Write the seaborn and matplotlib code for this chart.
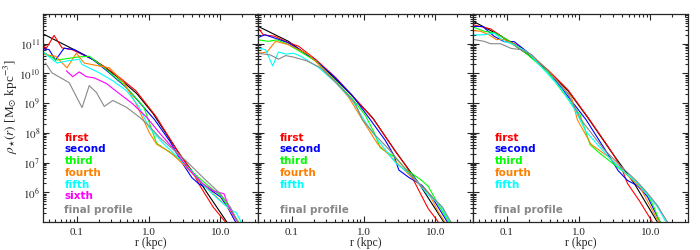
import numpy as np
import pandas as pd
import seaborn as sns
import matplotlib.pyplot as plt
import matplotlib.ticker as mticker

# -------------------------------------------------
# Data: log10(r / kpc) and log10(rho)
# -------------------------------------------------
runs = ["fit", "first", "second", "third", "fourth", "fifth", "sixth", "final profile"]
run_colors = {
    "fit": "black", "first": "#ff0000", "second": "#0000ff", "third": "#00ff00",
    "fourth": "#ff8000", "fifth": "#00ffff", "sixth": "#ff00ff", "final profile": "#888888",
}

# panel 1
p1_logr = {
    "fit": [-1.49, -1.0, -0.74, -0.455, -0.17, 0.06, 0.44, 0.72, 0.81, 1.09, 1.25],
    "first": [-1.49, -1.44, -1.32, -1.21, -1.07, -0.78, -0.6, -0.41, -0.18, 0.10, 0.40, 0.62, 0.72, 0.9, 1.07, 1.2],
    "second": [-1.49, -1.39, -1.3, -1.18, -1.04, -0.78, -0.55, -0.31, 0.08, 0.3, 0.48, 0.6, 0.7, 0.85, 1.0, 1.1, 1.2, 1.3],
    "third": [-1.49, -1.28, -1.0, -0.83, -0.6, -0.36, -0.07, 0.11, 0.44, 0.67, 0.84, 1.0, 1.15, 1.28],
    "fourth": [-1.49, -1.3, -1.14, -1.01, -0.9, -0.69, -0.55, -0.35, -0.18, 0.01, 0.11, 0.3, 0.5, 0.7, 0.9, 1.1, 1.25],
    "fifth": [-1.49, -1.28, -1.14, -0.97, -0.93, -0.69, -0.5, -0.31, -0.13, 0.0, 0.2, 0.4, 0.6, 0.8, 1.0, 1.15, 1.22, 1.3],
    "sixth": [-1.15, -1.06, -0.97, -0.87, -0.76, -0.59, -0.41, -0.23, -0.03, 0.15, 0.35, 0.55, 0.75, 0.9, 1.05, 1.12, 1.25],
    "final profile": [-1.44, -1.35, -1.11, -0.93, -0.83, -0.73, -0.62, -0.5, -0.31, -0.13, 0.0, 0.15, 0.52, 0.8, 1.0, 1.14, 1.23, 1.3],
}
p1_logrho = {
    "fit": [11.35, 10.75, 10.42, 9.92, 9.33, 8.65, 7.25, 6.33, 6.0, 5.0, 4.4],
    "first": [11.08, 10.8, 11.28, 10.86, 10.8, 10.47, 10.2, 9.87, 9.42, 8.56, 7.4, 6.65, 6.2, 5.5, 5.0, 4.6],
    "second": [10.84, 10.8, 10.45, 10.85, 10.8, 10.47, 10.02, 9.52, 8.45, 7.7, 6.94, 6.5, 6.28, 6.1, 5.85, 5.5, 5.05, 4.7],
    "third": [10.72, 10.45, 10.55, 10.58, 10.15, 9.65, 8.88, 7.65, 7.1, 6.55, 6.2, 5.9, 5.4, 4.9],
    "fourth": [10.65, 10.58, 10.19, 10.68, 10.35, 10.25, 10.19, 9.7, 9.0, 8.0, 7.62, 7.35, 6.9, 6.4, 5.95, 5.5, 5.0],
    "fifth": [10.75, 10.35, 10.42, 10.48, 10.3, 10.02, 9.75, 9.42, 8.86, 8.2, 7.65, 7.2, 6.7, 6.15, 5.7, 5.4, 5.32, 4.95],
    "sixth": [10.09, 9.89, 10.05, 9.89, 9.85, 9.66, 9.32, 8.99, 8.53, 8.0, 7.45, 6.8, 6.3, 6.05, 5.95, 5.5, 4.95],
    "final profile": [10.35, 10.02, 9.69, 8.85, 9.59, 9.36, 8.89, 9.09, 8.86, 8.53, 8.25, 7.85, 7.06, 6.4, 5.95, 5.5, 5.05, 4.8],
}

# panel 2
p2_logr = {
    "fit": [-1.47, -1.05, -0.67, -0.44, -0.21, 0.12, 0.44, 0.77, 1.09, 1.25],
    "first": [-1.47, -1.4, -1.24, -1.05, -0.91, -0.67, -0.39, -0.12, 0.14, 0.45, 0.6, 0.70, 0.77, 0.9, 1.02, 1.15],
    "second": [-1.47, -1.38, -1.24, -1.05, -0.72, -0.44, -0.16, 0.09, 0.3, 0.42, 0.49, 0.63, 0.81, 0.95, 1.09, 1.18],
    "third": [-1.47, -1.33, -1.21, -1.05, -0.67, -0.44, -0.16, 0.02, 0.14, 0.23, 0.44, 0.6, 0.81, 0.9, 1.05, 1.17, 1.25],
    "fourth": [-1.47, -1.35, -1.23, -1.05, -0.77, -0.49, -0.21, -0.02, 0.19, 0.42, 0.65, 0.9, 1.05, 1.12, 1.22],
    "fifth": [-1.47, -1.37, -1.27, -1.19, -1.09, -0.98, -0.88, -0.63, -0.39, -0.16, 0.0, 0.2, 0.44, 0.7, 0.9, 1.06, 1.18, 1.28],
    "final profile": [-1.47, -1.3, -1.19, -1.09, -0.98, -0.79, -0.6, -0.3, -0.12, -0.02, 0.15, 0.35, 0.63, 0.95, 1.1, 1.2, 1.3],
}
p2_logrho = {
    "fit": [11.58, 11.08, 10.42, 9.92, 9.37, 8.52, 7.39, 6.3, 5.1, 4.5],
    "first": [11.52, 11.3, 11.25, 11.03, 10.92, 10.47, 9.86, 9.15, 8.45, 7.35, 6.85, 6.39, 6.06, 5.45, 5.07, 4.6],
    "second": [11.21, 11.3, 11.19, 11.03, 10.53, 9.95, 9.26, 8.45, 7.75, 7.25, 6.75, 6.5, 6.24, 5.85, 5.3, 4.95],
    "third": [11.13, 11.08, 11.13, 10.97, 10.42, 9.86, 9.15, 8.6, 8.04, 7.5, 7.17, 6.75, 6.4, 6.2, 5.55, 5.08, 4.8],
    "fourth": [10.68, 10.72, 11.08, 10.97, 10.64, 9.97, 9.2, 8.45, 7.64, 7.1, 6.55, 6.0, 5.3, 5.05, 4.7],
    "fifth": [10.85, 10.8, 10.25, 10.72, 10.65, 10.68, 10.58, 10.2, 9.69, 9.1, 8.45, 7.75, 7.0, 6.5, 5.9, 5.6, 5.1, 4.7],
    "final profile": [10.68, 10.62, 10.48, 10.6, 10.55, 10.42, 10.19, 9.49, 8.99, 8.45, 7.95, 7.45, 6.65, 5.85, 5.5, 5.07, 4.7],
}

# panel 3
p3_logr = {
    "fit": [-1.46, -1.08, -0.71, -0.43, -0.15, 0.13, 0.45, 0.78, 1.08, 1.25],
    "first": [-1.46, -1.23, -1.04, -0.8, -0.43, -0.15, 0.15, 0.45, 0.6, 0.68, 0.85, 1.01, 1.12],
    "second": [-1.46, -1.34, -1.18, -1.04, -0.9, -0.71, -0.43, 0.1, 0.43, 0.55, 0.68, 0.82, 0.96, 1.12, 1.2],
    "third": [-1.46, -1.32, -1.17, -1.0, -0.77, -0.43, 0.02, 0.16, 0.3, 0.45, 0.62, 0.75, 0.88, 0.98, 1.05, 1.12, 1.2],
    "fourth": [-1.46, -1.37, -1.25, -1.15, -1.04, -0.71, -0.43, -0.1, -0.02, 0.17, 0.44, 0.67, 0.86, 1.1, 1.2],
    "fifth": [-1.46, -1.32, -1.18, -1.04, -0.9, -0.71, -0.43, -0.24, -0.05, 0.1, 0.3, 0.45, 0.62, 0.8, 0.95, 1.1, 1.2, 1.28],
    "final profile": [-1.46, -1.32, -1.23, -1.09, -0.94, -0.8, -0.66, -0.43, -0.15, 0.03, 0.35, 0.6, 0.8, 0.95, 1.1, 1.22, 1.3],
}
p3_logrho = {
    "fit": [11.74, 11.25, 10.64, 10.09, 9.42, 8.5, 7.38, 6.28, 5.07, 4.4],
    "first": [11.63, 11.5, 11.19, 10.86, 10.12, 9.45, 8.45, 7.4, 6.8, 6.3, 5.7, 5.07, 4.6],
    "second": [11.58, 11.58, 11.25, 11.07, 11.07, 10.71, 10.1, 8.45, 7.2, 6.73, 6.4, 6.22, 5.85, 5.07, 4.8],
    "third": [11.55, 11.42, 11.36, 11.14, 10.75, 10.04, 8.6, 7.6, 7.3, 7.02, 6.7, 6.45, 6.15, 5.85, 5.5, 5.07, 4.8],
    "fourth": [11.44, 11.42, 11.3, 11.14, 11.14, 10.71, 10.1, 9.2, 8.45, 7.62, 7.15, 6.6, 6.15, 5.07, 4.7],
    "fifth": [11.3, 11.3, 11.36, 11.08, 10.97, 10.71, 9.98, 9.48, 8.76, 8.05, 7.5, 7.1, 6.72, 6.35, 5.95, 5.5, 5.07, 4.8],
    "final profile": [11.14, 11.08, 11.0, 11.0, 10.84, 10.8, 10.64, 10.09, 9.32, 8.45, 7.45, 6.85, 6.4, 6.0, 5.55, 5.07, 4.8],
}

panels = [(p1_logr, p1_logrho), (p2_logr, p2_logrho), (p3_logr, p3_logrho)]

x_ticks = [0.1, 1.0, 10.0]
x_ticklabels = ["0.1", "1.0", "10.0"]
y_ticks = [1e6, 1e7, 1e8, 1e9, 1e10, 1e11]

# -------------------------------------------------
# Plot
# -------------------------------------------------
sns.set_style("ticks")
plt.rcParams["font.family"] = ["Liberation Serif", "DejaVu Serif"]
plt.rcParams["mathtext.fontset"] = "stix"
plt.rcParams["axes.linewidth"] = 0.9

fig = plt.figure(figsize=(7, 2.5), dpi=100)
ax_w = 215 / 700
ax_left = 43 / 700

for i, (logr, logrho) in enumerate(panels):
    ax = fig.add_axes([ax_left + i * ax_w, 28 / 250, ax_w, 208 / 250])
    order = [k for k in runs if k in logr]
    frames = []
    for k in order:
        frames.append(pd.DataFrame({"r": 10 ** np.array(logr[k]),
                                    "rho": 10 ** np.array(logrho[k]),
                                    "run": k}))
    df = pd.concat(frames, ignore_index=True)
    sns.lineplot(data=df, x="r", y="rho", hue="run", hue_order=order,
                 palette=run_colors, sort=False, estimator=None,
                 linewidth=0.8, legend=False, ax=ax)
    ax.set_xscale("log")
    ax.set_yscale("log")
    ax.set_xlim(0.0335, 33.5)
    ax.set_ylim(1e5, 1e12)

    ax.xaxis.set_major_locator(mticker.FixedLocator(x_ticks))
    ax.xaxis.set_major_formatter(mticker.FixedFormatter(x_ticklabels))
    ax.xaxis.set_minor_locator(mticker.LogLocator(base=10, subs=np.arange(2, 10), numticks=20))
    ax.xaxis.set_minor_formatter(mticker.NullFormatter())
    ax.yaxis.set_major_locator(mticker.FixedLocator(y_ticks))
    ax.yaxis.set_major_formatter(mticker.FuncFormatter(lambda v, p: r"$10^{%d}$" % round(np.log10(v))))
    ax.yaxis.set_minor_locator(mticker.LogLocator(base=10, subs=np.arange(2, 10), numticks=20))
    ax.yaxis.set_minor_formatter(mticker.NullFormatter())

    ax.tick_params(which="both", direction="in", top=True, right=True, width=0.8, labelsize=8)
    ax.tick_params(which="major", length=4.5)
    ax.tick_params(which="minor", length=2.2)
    ax.tick_params(axis="x", pad=4)
    ax.tick_params(axis="y", pad=2)
    if i > 0:
        ax.tick_params(axis="y", labelleft=False)
    ax.set_xlabel("")
    ax.set_ylabel("")
    ax.text(0.5, -21 / 208, "r (kpc)", transform=ax.transAxes,
            ha="center", va="center", fontsize=8.5)

    # run labels
    text_runs = [k for k in order if k != "fit"]
    for j, k in enumerate(text_runs):
        if k == "final profile":
            y = 0.059
        else:
            y = 0.405 - j * 0.0563
        ax.text(0.10, y, k, transform=ax.transAxes, color=run_colors[k],
                fontsize=7.5, fontweight="bold", family="DejaVu Sans",
                va="center", ha="left")

fig.text(0.015, 0.576, r"$\rho_{\star}(r)$ [M$_{\odot}$ kpc$^{-3}$]",
         rotation=90, ha="center", va="center", fontsize=9.5)

fig.savefig("out.png", dpi=100)
